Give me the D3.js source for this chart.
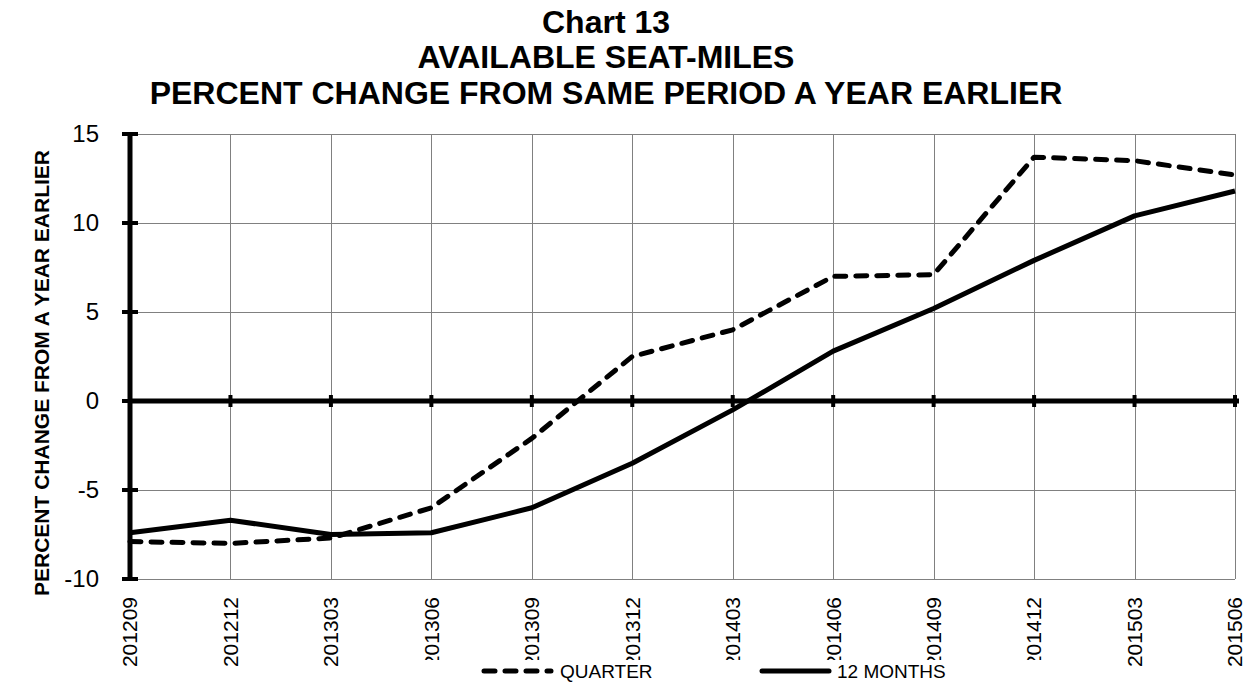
<!DOCTYPE html>
<html>
<head>
<meta charset="utf-8">
<script src="https://cdn.jsdelivr.net/npm/d3@7"></script>
<style>
  body { margin: 0; background: #fff; }
  text { font-family: Arial, "Liberation Sans", sans-serif; }
</style>
</head>
<body>
<div id="chart"></div>
<script>
// Chart data
var categories = ["201209", "201212", "201303", "201306", "201309", "201312",
                  "201403", "201406", "201409", "201412", "201503", "201506"];
var quarter   = [-7.9, -8.0, -7.7, -6.0, -2.1, 2.5, 4.0, 7.0, 7.1, 13.7, 13.5, 12.7];
var twelveMo  = [-7.4, -6.7, -7.5, -7.4, -6.0, -3.5, -0.5, 2.8, 5.2, 7.9, 10.4, 11.8];
var yTicks    = [-10, -5, 0, 5, 10, 15];
var titleLines = ["Chart 13", "AVAILABLE SEAT-MILES", "PERCENT CHANGE FROM SAME PERIOD A YEAR EARLIER"];
var titleBaselines = [33, 68, 104];

var width = 1250, height = 685;

var svg = d3.select("#chart").append("svg")
  .attr("width", width)
  .attr("height", height);

var x = d3.scalePoint().domain(categories).range([130, 1235]);
var y = d3.scaleLinear().domain([-10, 15]).range([579, 134]);

// Title
svg.append("g")
  .attr("font-weight", "bold")
  .attr("font-size", 32)
  .attr("text-anchor", "middle")
  .selectAll("text")
  .data(titleLines)
  .join("text")
  .attr("x", 606)
  .attr("y", (d, i) => titleBaselines[i])
  .text(d => d);

// Grid lines
var grid = svg.append("g").attr("stroke", "#808080").attr("stroke-width", 1);
grid.selectAll(".h")
  .data(yTicks)
  .join("line")
  .attr("x1", x.range()[0]).attr("x2", x.range()[1])
  .attr("y1", d => Math.round(y(d)) + 0.5).attr("y2", d => Math.round(y(d)) + 0.5);
grid.selectAll(".v")
  .data(categories)
  .join("line")
  .attr("x1", d => Math.round(x(d)) + 0.5).attr("x2", d => Math.round(x(d)) + 0.5)
  .attr("y1", y(15)).attr("y2", y(-10));

// Zero line with ticks
svg.append("line")
  .attr("x1", x.range()[0]).attr("x2", x.range()[1] + 4)
  .attr("y1", y(0)).attr("y2", y(0))
  .attr("stroke", "#000").attr("stroke-width", 5);
svg.append("g").selectAll("line")
  .data(categories)
  .join("line")
  .attr("x1", d => x(d)).attr("x2", d => x(d))
  .attr("y1", y(0) - 6).attr("y2", y(0) + 6)
  .attr("stroke", "#000").attr("stroke-width", 4);

// Y axis
svg.append("line")
  .attr("x1", x.range()[0]).attr("x2", x.range()[0])
  .attr("y1", y(15) - 2).attr("y2", y(-10) + 2)
  .attr("stroke", "#000").attr("stroke-width", 5);
svg.append("g").selectAll("line")
  .data(yTicks)
  .join("line")
  .attr("x1", 122).attr("x2", 138)
  .attr("y1", d => y(d)).attr("y2", d => y(d))
  .attr("stroke", "#000").attr("stroke-width", 4);
svg.append("g")
  .attr("font-size", 24)
  .attr("text-anchor", "end")
  .selectAll("text")
  .data(yTicks)
  .join("text")
  .attr("x", 99)
  .attr("y", d => y(d))
  .attr("dy", "0.35em")
  .text(d => d);

// Y axis title
svg.append("text")
  .attr("transform", "translate(42," + 373 + ") rotate(-90)")
  .attr("text-anchor", "middle")
  .attr("dy", "0.35em")
  .attr("font-size", 21)
  .attr("font-weight", "bold")
  .text("PERCENT CHANGE FROM A YEAR EARLIER");

// X labels
svg.append("g")
  .attr("font-size", 21)
  .attr("text-anchor", "end")
  .selectAll("text")
  .data(categories)
  .join("text")
  .attr("transform", d => "translate(" + x(d) + ",597) rotate(-90)")
  .attr("dy", "0.35em")
  .text(d => d);

// Lines
var line = d3.line()
  .x((d, i) => x(categories[i]))
  .y(d => y(d));

svg.append("path")
  .datum(quarter)
  .attr("d", line)
  .attr("fill", "none")
  .attr("stroke", "#000")
  .attr("stroke-width", 5)
  .attr("stroke-linecap", "round")
  .attr("stroke-linejoin", "round")
  .attr("stroke-dasharray", "11,10");

svg.append("path")
  .datum(twelveMo)
  .attr("d", line)
  .attr("fill", "none")
  .attr("stroke", "#000")
  .attr("stroke-width", 5)
  .attr("stroke-linejoin", "round");

// Legend (white box covers the bottom of the labels)
var legend = svg.append("g");
legend.append("rect")
  .attr("x", 400).attr("y", 660)
  .attr("width", 690).attr("height", 25)
  .attr("fill", "#fff");
legend.append("line")
  .attr("x1", 484).attr("x2", 551)
  .attr("y1", 671).attr("y2", 671)
  .attr("stroke", "#000").attr("stroke-width", 5)
  .attr("stroke-linecap", "round")
  .attr("stroke-dasharray", "11,10");
legend.append("text")
  .attr("x", 560).attr("y", 678)
  .attr("font-size", 19)
  .text("QUARTER");
legend.append("line")
  .attr("x1", 762).attr("x2", 829)
  .attr("y1", 671).attr("y2", 671)
  .attr("stroke", "#000").attr("stroke-width", 5)
  .attr("stroke-linecap", "round");
legend.append("text")
  .attr("x", 837).attr("y", 678)
  .attr("font-size", 19)
  .text("12 MONTHS");
</script>
</body>
</html>
